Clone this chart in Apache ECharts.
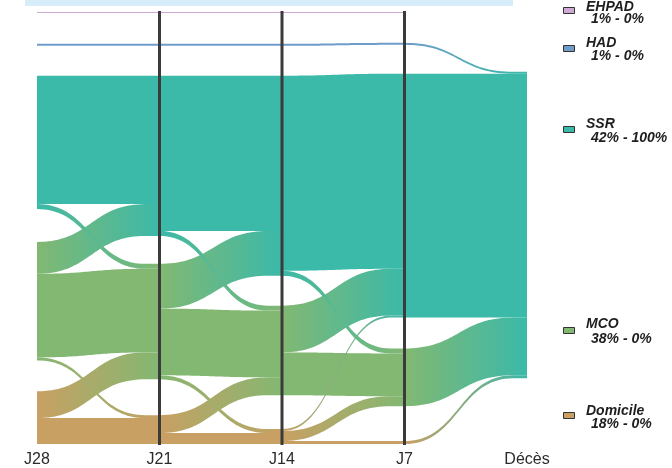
<!DOCTYPE html>
<html>
<head>
<meta charset="utf-8">
<script src="https://cdn.jsdelivr.net/npm/echarts/dist/echarts.min.js"></script>
<style>
html,body{margin:0;padding:0;background:#ffffff;}
#chart{width:672px;height:468px;}
</style>
</head>
<body>
<div id="chart"></div>
<script>
// ---------------- DATA ----------------
const columns = ['J28', 'J21', 'J14', 'J7', 'Décès'];
const states = ['EHPAD', 'HAD', 'SSR', 'MCO', 'Domicile'];
const pctFirst = ['1%', '1%', '42%', '38%', '18%'];
const pctLast = ['0%', '0%', '100%', '0%', '0%'];
// vertical stacking order; "g*" are unlabelled groups whose flows are not drawn
const stackOrder = ['EHPAD', 'g1', 'HAD', 'g2', 'SSR', 'g3', 'MCO', 'g4', 'Domicile', 'g5'];

// flows [from, to, patients]
const flowsJ28toJ21 = [
  ['EHPAD', 'EHPAD', 1], ['g1', 'g1', 31], ['HAD', 'HAD', 2], ['g2', 'g2', 30],
  ['SSR', 'SSR', 129], ['SSR', 'MCO', 5], ['g3', 'g3', 28], ['g3', 'g4', 5],
  ['MCO', 'SSR', 32], ['MCO', 'MCO', 84], ['MCO', 'Domicile', 3], ['g4', 'g4', 31],
  ['Domicile', 'MCO', 27], ['Domicile', 'Domicile', 26]
];
const flowsJ21toJ14 = [
  ['EHPAD', 'EHPAD', 1], ['g1', 'g1', 31], ['HAD', 'HAD', 2], ['g2', 'g2', 30],
  ['SSR', 'SSR', 156], ['SSR', 'MCO', 5], ['g3', 'g3', 28],
  ['MCO', 'SSR', 45], ['MCO', 'MCO', 67], ['MCO', 'Domicile', 4],
  ['g4', 'g3', 2], ['g4', 'g4', 34],
  ['Domicile', 'MCO', 18], ['Domicile', 'Domicile', 11]
];
const flowsJ14toJ7 = [
  ['EHPAD', 'EHPAD', 1], ['g1', 'g1', 30], ['g1', 'g2', 1], ['HAD', 'HAD', 2],
  ['g2', 'g2', 28], ['g2', 'g3', 2],
  ['SSR', 'SSR', 196], ['SSR', 'MCO', 5],
  ['g3', 'g3', 29], ['g3', 'g4', 1],
  ['MCO', 'SSR', 47], ['MCO', 'MCO', 43],
  ['g4', 'g4', 34],
  ['Domicile', 'SSR', 2], ['Domicile', 'MCO', 10], ['Domicile', 'Domicile', 3]
];
const flowsJ7toDeces = [
  ['EHPAD', 'g1', 1], ['g1', 'g1', 30], ['HAD', 'SSR', 2], ['g2', 'g1', 29],
  ['SSR', 'SSR', 245], ['g3', 'g5', 31], ['MCO', 'SSR', 58], ['g4', 'g5', 35],
  ['Domicile', 'SSR', 3]
];

// ---------------- STYLE ----------------
const stateColors = ['#CFA9D4', '#6E9CCB', '#3BB9A9', '#82B872', '#C9A063'];
const legendY = [[6, 18, 10], [42, 55, 48], [123, 137, 129], [323, 338, 330], [410, 423, 415]];
const CURVE_INSET = 14;

// ---------------- BUILD ----------------
const transitions = [flowsJ28toJ21, flowsJ21toJ14, flowsJ14toJ7, flowsJ7toDeces];
const TOTAL = flowsJ28toJ21.reduce((s, f) => s + f[2], 0);
const ord = name => stackOrder.indexOf(name);

const flowItems = [];
transitions.forEach((flows, t) => {
  const pos = flows.map(() => ({}));
  let cursor = 0;
  stackOrder.forEach(block => {
    flows.map((f, i) => [f, i]).filter(p => p[0][0] === block)
      .sort((a, b) => ord(a[0][1]) - ord(b[0][1]))
      .forEach(([f, i]) => { pos[i].y0 = cursor; cursor += f[2]; });
  });
  cursor = 0;
  stackOrder.forEach(block => {
    flows.map((f, i) => [f, i]).filter(p => p[0][1] === block)
      .sort((a, b) => ord(a[0][0]) - ord(b[0][0]))
      .forEach(([f, i]) => { pos[i].y1 = cursor; cursor += f[2]; });
  });
  flows.forEach((f, i) => {
    const a = states.indexOf(f[0]), b = states.indexOf(f[1]);
    if (a < 0 || b < 0) return;
    flowItems.push([t, pos[i].y0, pos[i].y0 + f[2], pos[i].y1, pos[i].y1 + f[2], a, b, f[2]]);
  });
});
flowItems.sort((a, b) => b[7] - a[7]);

const innerColumns = columns.map((c, i) => [i]).filter(d => d[0] > 0 && d[0] < columns.length - 1);

function bez(p0, p1, p2, p3, s) {
  const u = 1 - s;
  return u * u * u * p0 + 3 * u * u * s * p1 + 3 * u * s * s * p2 + s * s * s * p3;
}

function renderFlow(params, api) {
  const t = api.value(0);
  const a0 = api.coord([t, api.value(1)]);
  const b0 = api.coord([t, api.value(2)]);
  const a1 = api.coord([t + 1, api.value(3)]);
  const b1 = api.coord([t + 1, api.value(4)]);
  const x0 = a0[0], x1 = a1[0];
  const xe = x1 - CURVE_INSET;
  const xm = (x0 + xe) / 2;
  const pts = [];
  const N = 40;
  for (let k = 0; k <= N; k++) {
    const s = k / N;
    pts.push([bez(x0, xm, xm, xe, s), bez(a0[1], a0[1], a1[1], a1[1], s)]);
  }
  pts.push([x1, a1[1]]);
  pts.push([x1, b1[1]]);
  for (let k = N; k >= 0; k--) {
    const s = k / N;
    pts.push([bez(x0, xm, xm, xe, s), bez(b0[1], b0[1], b1[1], b1[1], s)]);
  }
  const c0 = stateColors[api.value(5)], c1 = stateColors[api.value(6)];
  const fill = c0 === c1 ? c0 : new echarts.graphic.LinearGradient(0, 0, 1, 0, [
    { offset: 0, color: c0 }, { offset: 1, color: c1 }
  ]);
  return { type: 'polygon', shape: { points: pts }, style: { fill: fill, stroke: null } };
}

function renderLine(params, api) {
  const i = api.value(0);
  const p = api.coord([i, 0]);
  const q = api.coord([i, TOTAL]);
  return {
    type: 'line',
    shape: { x1: p[0], y1: p[1] - 1, x2: q[0], y2: q[1] + 1 },
    style: { stroke: '#3b3b3b', lineWidth: 3 }
  };
}

const graphics = [
  { type: 'rect', left: 25, top: 0, shape: { width: 488, height: 6 }, style: { fill: '#D7EEFA' } }
];
states.forEach((s, i) => {
  const [ty, sy, by] = legendY[i];
  graphics.push({
    type: 'rect', left: 563, top: by - 3,
    shape: { width: 11, height: 6 },
    style: { fill: stateColors[i], stroke: '#333333', lineWidth: 1 }
  });
  graphics.push({
    type: 'text', left: 586, top: ty - 6,
    style: { text: s, fill: '#1e1e1e', fontSize: 14, fontWeight: 'bold', fontStyle: 'italic', fontFamily: 'Liberation Sans' }
  });
  graphics.push({
    type: 'text', left: 591, top: sy - 6,
    style: { text: pctFirst[i] + ' - ' + pctLast[i], fill: '#1e1e1e', fontSize: 14, fontWeight: 'bold', fontStyle: 'italic', fontFamily: 'Liberation Sans' }
  });
});

const chart = echarts.init(document.getElementById('chart'), null, { renderer: 'canvas' });
chart.setOption({
  animation: false,
  backgroundColor: '#ffffff',
  grid: { left: 37, right: 145, top: 12, bottom: 22, containLabel: false },
  xAxis: {
    type: 'category', data: columns, boundaryGap: false,
    axisLine: { show: false }, axisTick: { show: false }, splitLine: { show: false },
    axisLabel: { color: '#2b2b2b', fontSize: 16, fontFamily: 'Liberation Sans', margin: 8 }
  },
  yAxis: { type: 'value', min: 0, max: TOTAL, inverse: true, show: false },
  graphic: graphics,
  series: [
    { type: 'custom', renderItem: renderFlow, data: flowItems, encode: { x: 0, y: 1 }, clip: false, z: 2 },
    { type: 'custom', renderItem: renderLine, data: innerColumns, encode: { x: 0 }, clip: false, z: 3 }
  ]
});
</script>
</body>
</html>
